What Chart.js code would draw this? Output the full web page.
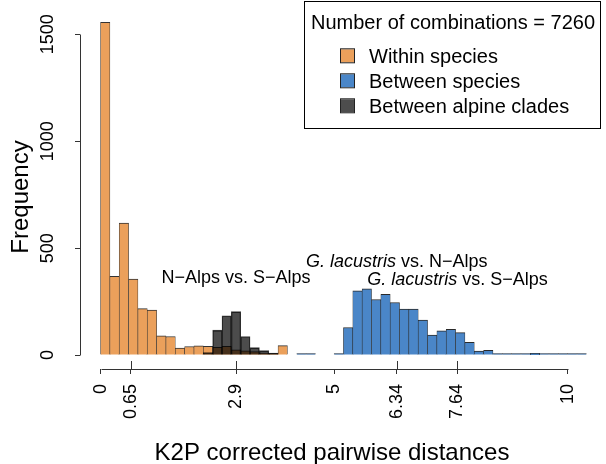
<!DOCTYPE html>
<html>
<head>
<meta charset="utf-8">
<script src="https://cdn.jsdelivr.net/npm/chart.js@4/dist/chart.umd.min.js"></script>
<style>
  html, body { margin: 0; padding: 0; background: #ffffff; }
  #wrap { width: 606px; height: 464px; position: relative; }
</style>
</head>
<body>
<div id="wrap"><canvas id="c" width="606" height="464"></canvas></div>
<script>
// ---------------- data ----------------
const binWidth = 0.2;              // histogram bin width (K2P distance)
const binCount = 52;               // bins from 0 to 10.4

const withinSpecies = [1556, 368, 617, 355, 217, 211, 90, 87, 33, 40,
                       43, 41, 36, 41, 25, 20, 16, 9, 2, 44,
                       0, 0, 0, 0, 0, 0, 0, 0, 0, 0,
                       0, 0, 0, 0, 0, 0, 0, 0, 0, 0,
                       0, 0, 0, 0, 0, 0, 0, 0, 0, 0,
                       0, 0];
const betweenSpecies = [0, 0, 0, 0, 0, 0, 0, 0, 0, 0,
                        0, 0, 0, 0, 0, 0, 0, 0, 0, 0,
                        0, 3, 3, 0, 0, 2, 129, 301, 310, 260,
                        284, 246, 215, 215, 164, 94, 114, 120, 105, 60,
                        19, 22, 5, 5, 2, 2, 8, 1, 3, 3,
                        3, 2];
const betweenAlpine = [0, 0, 0, 0, 0, 0, 0, 0, 0, 0,
                       0, 12, 117, 184, 203, 87, 35, 21, 10, 0,
                       0, 0, 0, 0, 0, 0, 0, 0, 0, 0,
                       0, 0, 0, 0, 0, 0, 0, 0, 0, 0,
                       0, 0, 0, 0, 0, 0, 0, 0, 0, 0,
                       0, 0];

const seriesLabels = ['Within species', 'Between species', 'Between alpine clades'];
const legendTitle = 'Number of combinations = 7260';

const xTickValues = [0, 0.65, 2.9, 5, 6.34, 7.64, 10];
const xTickLabels = ['0', '0.65', '2.9', '5', '6.34', '7.64', '10'];
const xMarkedTicks = [0.65, 2.9, 6.34, 7.64];
const yTickValues = [0, 500, 1000, 1500];
const yTickLabels = ['0', '500', '1000', '1500'];

const xTitle = 'K2P corrected pairwise distances';
const yTitle = 'Frequency';

// annotations (data coordinates)
const annItalic = ['', 'G. lacustris', 'G. lacustris'];
const annText   = ['N\u2212Alps vs. S\u2212Alps', ' vs. N\u2212Alps', ' vs. S\u2212Alps'];
const annX = [2.9, 6.34, 7.64];
const annY = [335, 413, 327];

// ---------------- chart ----------------
const FONT = "'Liberation Sans', Arial, Helvetica, sans-serif";
const binCenters = Array.from({length: binCount}, (_, i) => +((i + 0.5) * binWidth).toFixed(2));
const toPoints = arr => arr.map((v, i) => ({x: binCenters[i], y: v === 0 ? null : v}));

const colors = ['#EBA05B', '#4A86C8', 'rgba(0,0,0,0.7)'];
const legendColors = ['#EBA05B', '#4A86C8', '#4D4D4D'];
const borderColors = ['#333333', '#2a2a2a', 'rgba(0,0,0,0.75)'];
const series = [withinSpecies, betweenSpecies, betweenAlpine];

const barBorder = {top: 1, left: 0.6, right: 0.6, bottom: 0};

const rAxesPlugin = {
  id: 'rAxes',
  afterDraw(chart) {
    const ctx = chart.ctx;
    const xs = chart.scales.x, ys = chart.scales.y;
    const area = chart.chartArea;
    ctx.save();
    ctx.strokeStyle = '#333';
    ctx.lineWidth = 1;
    // x axis line from first to last tick
    const yAxisPos = Math.round(area.bottom) + 0.5;
    ctx.beginPath();
    ctx.moveTo(Math.round(xs.getPixelForValue(xTickValues[0])) + 0.5, yAxisPos);
    ctx.lineTo(Math.round(xs.getPixelForValue(xTickValues[xTickValues.length - 1])) + 0.5, yAxisPos);
    ctx.stroke();
    // marked ticks extend upward too
    xMarkedTicks.forEach(v => {
      const px = Math.round(xs.getPixelForValue(v)) + 0.5;
      ctx.beginPath();
      ctx.moveTo(px, area.bottom - 8);
      ctx.lineTo(px, area.bottom + 1);
      ctx.stroke();
    });
    // y axis line from first to last tick
    const xAxisPos = Math.round(area.left) + 0.5;
    ctx.beginPath();
    ctx.moveTo(xAxisPos, Math.round(ys.getPixelForValue(yTickValues[0])) + 0.5);
    ctx.lineTo(xAxisPos, Math.round(ys.getPixelForValue(yTickValues[yTickValues.length - 1])) + 0.5);
    ctx.stroke();

    // axis titles
    ctx.fillStyle = '#000';
    ctx.font = '24px ' + FONT;
    ctx.textAlign = 'center';
    ctx.textBaseline = 'alphabetic';
    ctx.fillText(xTitle, 332, 460);
    ctx.save();
    ctx.translate(28, 197);
    ctx.rotate(-Math.PI / 2);
    ctx.fillText(yTitle, 0, 0);
    ctx.restore();

    // annotations
    for (let i = 0; i < annText.length; i++) {
      const px = xs.getPixelForValue(annX[i]);
      const py = ys.getPixelForValue(annY[i]);
      ctx.font = 'italic 18px ' + FONT;
      const w1 = annItalic[i] ? ctx.measureText(annItalic[i]).width : 0;
      ctx.font = '18px ' + FONT;
      const w2 = ctx.measureText(annText[i]).width;
      let start = px - (w1 + w2) / 2;
      ctx.textAlign = 'left';
      if (annItalic[i]) {
        ctx.font = 'italic 18px ' + FONT;
        ctx.fillText(annItalic[i], start, py);
        start += w1;
      }
      ctx.font = '18px ' + FONT;
      ctx.fillText(annText[i], start, py);
    }

    // legend
    ctx.strokeStyle = '#000';
    ctx.lineWidth = 1;
    ctx.strokeRect(304.5, 1.5, 296, 127);
    ctx.font = '20px ' + FONT;
    ctx.textAlign = 'center';
    ctx.fillStyle = '#000';
    ctx.fillText(legendTitle, 453, 29);
    ctx.textAlign = 'left';
    chart.data.datasets.forEach((ds, i) => {
      const base = 63.3 + i * 25;
      ctx.fillStyle = legendColors[i];
      ctx.fillRect(341, base - 14, 13, 13);
      ctx.strokeStyle = '#222';
      ctx.strokeRect(340.5, base - 14.5, 14, 14);
      ctx.fillStyle = '#000';
      ctx.fillText(ds.label, 369, base);
    });
    ctx.restore();
  }
};

new Chart(document.getElementById('c'), {
  type: 'bar',
  data: {
    datasets: series.map((arr, i) => ({
      label: seriesLabels[i],
      data: toPoints(arr),
      backgroundColor: colors[i],
      borderColor: borderColors[i],
      borderWidth: barBorder,
      borderSkipped: false,
      minBarLength: 1.5,
      grouped: false,
      barPercentage: 1,
      categoryPercentage: 1,
      order: 3 - i
    }))
  },
  options: {
    responsive: false,
    devicePixelRatio: 1,
    animation: false,
    layout: { padding: { top: 8, right: 0, left: 0, bottom: 0 } },
    plugins: { legend: { display: false }, tooltip: { enabled: false } },
    scales: {
      x: {
        type: 'linear',
        min: -0.44,
        max: 10.82,
        offset: false,
        afterBuildTicks: s => { s.ticks = xTickValues.map(v => ({value: v})); },
        afterFit: s => { s.height = 95; s.paddingLeft = 0; s.paddingRight = 0; },
        grid: { offset: false, drawOnChartArea: false, drawTicks: true, tickLength: 5, color: '#333', lineWidth: 1 },
        border: { display: false },
        ticks: {
          autoSkip: false,
          minRotation: 90,
          maxRotation: 90,
          padding: 10,
          color: '#000',
          font: { family: FONT, size: 18 },
          callback: (v, i) => xTickLabels[i]
        }
      },
      y: {
        type: 'linear',
        min: -65,
        max: 1623,
        afterBuildTicks: s => { s.ticks = yTickValues.map(v => ({value: v})); },
        afterFit: s => { s.width = 80; s.paddingTop = 0; s.paddingBottom = 0; },
        grid: { offset: false, drawOnChartArea: false, drawTicks: true, tickLength: 5, color: '#333', lineWidth: 1 },
        border: { display: false },
        ticks: {
          minRotation: 90,
          maxRotation: 90,
          crossAlign: 'center',
          padding: 7,
          color: '#000',
          font: { family: FONT, size: 18 },
          callback: (v, i) => yTickLabels[i]
        }
      }
    }
  },
  plugins: [rAxesPlugin]
});
</script>
</body>
</html>
